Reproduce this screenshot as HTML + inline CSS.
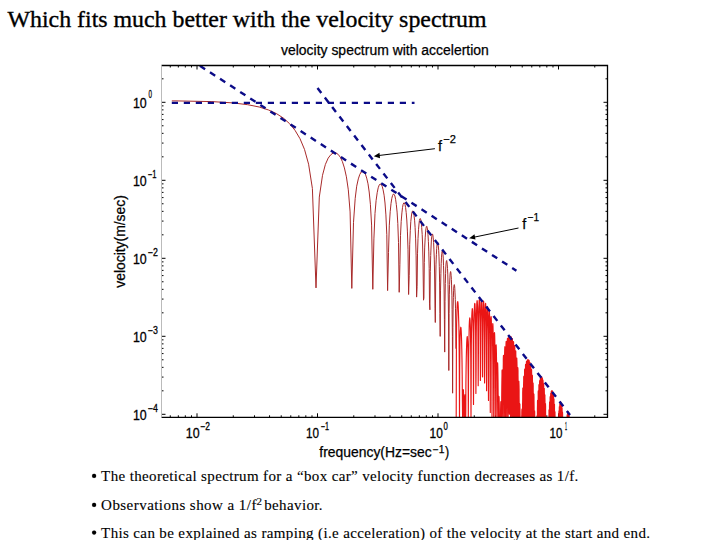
<!DOCTYPE html>
<html><head><meta charset="utf-8"><style>
html,body{margin:0;padding:0;background:#fff;width:720px;height:540px;overflow:hidden;position:relative}
</style></head><body>
<svg width="720" height="540" viewBox="0 0 720 540" style="position:absolute;left:0;top:0">
<defs><clipPath id="ax"><rect x="161.5" y="65.5" width="446.0" height="351.8"/></clipPath></defs>
<path d="M170.27 417.3V415.30M170.27 65.5V67.50M178.33 417.3V415.30M178.33 65.5V67.50M185.32 417.3V415.30M185.32 65.5V67.50M191.49 417.3V415.30M191.49 65.5V67.50M197.00 417.3V413.30M197.00 65.5V69.50M233.27 417.3V415.30M233.27 65.5V67.50M254.49 417.3V415.30M254.49 65.5V67.50M269.55 417.3V415.30M269.55 65.5V67.50M281.23 417.3V415.30M281.23 65.5V67.50M290.77 417.3V415.30M290.77 65.5V67.50M298.83 417.3V415.30M298.83 65.5V67.50M305.82 417.3V415.30M305.82 65.5V67.50M311.99 417.3V415.30M311.99 65.5V67.50M317.50 417.3V413.30M317.50 65.5V69.50M353.77 417.3V415.30M353.77 65.5V67.50M374.99 417.3V415.30M374.99 65.5V67.50M390.05 417.3V415.30M390.05 65.5V67.50M401.73 417.3V415.30M401.73 65.5V67.50M411.27 417.3V415.30M411.27 65.5V67.50M419.33 417.3V415.30M419.33 65.5V67.50M426.32 417.3V415.30M426.32 65.5V67.50M432.49 417.3V415.30M432.49 65.5V67.50M438.00 417.3V413.30M438.00 65.5V69.50M474.27 417.3V415.30M474.27 65.5V67.50M495.49 417.3V415.30M495.49 65.5V67.50M510.55 417.3V415.30M510.55 65.5V67.50M522.23 417.3V415.30M522.23 65.5V67.50M531.77 417.3V415.30M531.77 65.5V67.50M539.83 417.3V415.30M539.83 65.5V67.50M546.82 417.3V415.30M546.82 65.5V67.50M552.99 417.3V415.30M552.99 65.5V67.50M558.50 417.3V413.30M558.50 65.5V69.50M594.77 417.3V415.30M594.77 65.5V67.50M161.5 414.30H165.50M607.5 414.30H603.50M161.5 390.82H163.50M607.5 390.82H605.50M161.5 377.08H163.50M607.5 377.08H605.50M161.5 367.34H163.50M607.5 367.34H605.50M161.5 359.78H163.50M607.5 359.78H605.50M161.5 353.60H163.50M607.5 353.60H605.50M161.5 348.38H163.50M607.5 348.38H605.50M161.5 343.86H163.50M607.5 343.86H605.50M161.5 339.87H163.50M607.5 339.87H605.50M161.5 336.30H165.50M607.5 336.30H603.50M161.5 312.82H163.50M607.5 312.82H605.50M161.5 299.08H163.50M607.5 299.08H605.50M161.5 289.34H163.50M607.5 289.34H605.50M161.5 281.78H163.50M607.5 281.78H605.50M161.5 275.60H163.50M607.5 275.60H605.50M161.5 270.38H163.50M607.5 270.38H605.50M161.5 265.86H163.50M607.5 265.86H605.50M161.5 261.87H163.50M607.5 261.87H605.50M161.5 258.30H165.50M607.5 258.30H603.50M161.5 234.82H163.50M607.5 234.82H605.50M161.5 221.08H163.50M607.5 221.08H605.50M161.5 211.34H163.50M607.5 211.34H605.50M161.5 203.78H163.50M607.5 203.78H605.50M161.5 197.60H163.50M607.5 197.60H605.50M161.5 192.38H163.50M607.5 192.38H605.50M161.5 187.86H163.50M607.5 187.86H605.50M161.5 183.87H163.50M607.5 183.87H605.50M161.5 180.30H165.50M607.5 180.30H603.50M161.5 156.82H163.50M607.5 156.82H605.50M161.5 143.08H163.50M607.5 143.08H605.50M161.5 133.34H163.50M607.5 133.34H605.50M161.5 125.78H163.50M607.5 125.78H605.50M161.5 119.60H163.50M607.5 119.60H605.50M161.5 114.38H163.50M607.5 114.38H605.50M161.5 109.86H163.50M607.5 109.86H605.50M161.5 105.87H163.50M607.5 105.87H605.50M161.5 102.30H165.50M607.5 102.30H603.50M161.5 78.82H163.50M607.5 78.82H605.50" stroke="#000" stroke-width="1" fill="none"/>
<g clip-path="url(#ax)" fill="none" stroke-width="1" stroke-linejoin="round">
<polyline points="171.8,100.9 176.0,100.9 211.9,101.6 232.8,102.9 247.7,104.7 259.2,107.0 268.6,110.0 276.6,113.7 283.5,118.2 289.6,123.7 295.0,130.3 300.0,138.7 304.5,149.4 308.6,164.2 312.4,188.5 316.0,287.9 319.3,197.1 322.5,175.3 325.4,164.4 328.2,158.1 330.9,154.6 333.4,152.9 335.8,152.9 338.1,154.3 340.3,157.2 342.4,161.6 344.4,167.9 346.4,176.8 348.3,189.8 350.1,211.9 351.8,288.4 353.5,222.3 355.2,198.4 356.7,186.2 358.3,178.9 359.8,174.4 361.2,172.0 362.7,171.3 364.0,172.0 365.4,174.2 366.7,178.1 368.0,183.8 369.2,192.0 370.4,204.3 371.6,225.1 372.8,289.3 373.9,238.9 375.0,213.4 376.1,200.5 377.2,192.7 378.2,187.8 379.2,185.1 380.2,184.0 381.2,184.4 382.2,186.3 383.1,189.8 384.1,195.2 385.0,203.0 385.9,214.9 386.8,234.7 387.6,290.6 388.5,252.4 389.3,225.2 390.2,211.7 391.0,203.6 391.8,198.4 392.6,195.4 393.3,194.1 394.1,194.3 394.9,196.0 395.6,199.3 396.3,204.4 397.1,212.1 397.8,223.5 398.5,242.5 399.2,292.3 399.9,264.3 400.5,235.4 401.2,221.4 401.9,212.9 402.5,207.6 403.1,204.4 403.8,202.9 404.4,203.0 405.0,204.5 405.6,207.6 406.2,212.6 406.8,220.0 407.4,231.1 408.0,249.3 408.6,294.5 409.2,275.6 409.7,244.8 410.3,230.3 410.8,221.5 411.4,216.0 411.9,212.6 412.5,211.0 413.0,211.0 413.5,212.4 414.0,215.4 414.6,220.2 415.1,227.4 415.6,238.1 416.1,255.8 416.6,297.1 417.1,286.7 417.5,253.8 418.0,238.7 418.5,229.7 419.0,224.0 419.4,220.5 419.9,218.8 420.4,218.6 420.8,219.9 421.3,222.8 421.7,227.5 422.2,234.5 422.6,245.0 423.0,262.0 423.5,300.2 423.9,298.0 424.3,262.7 424.7,247.1 425.2,237.8 425.6,231.9 426.0,228.3 426.4,226.5 426.8,226.2 427.2,227.5 427.6,230.3 428.0,234.8 428.4,241.7 428.8,251.9 429.2,268.4 429.5,303.9 429.9,309.8 430.3,271.7 430.7,255.5 431.1,246.0 431.4,239.9 431.8,236.2 432.2,234.3 432.5,234.0 432.9,235.2 433.2,237.9 433.6,242.4 433.9,249.1 434.3,259.1 434.6,275.0 435.0,308.2 435.3,322.5 435.7,281.0 436.0,264.2 436.4,254.4 436.7,248.3 437.0,244.5 437.4,242.5 437.7,242.1 438.0,243.3 438.3,245.9 438.7,250.3 439.0,256.9 439.3,266.7 439.6,282.1 439.9,313.4 440.2,336.4 440.5,290.9 440.9,273.5 441.2,263.5 441.5,257.2 441.8,253.3 442.1,251.3 442.4,250.9 442.7,251.9 443.0,254.5 443.3,258.9 443.5,265.4 443.8,275.0 444.1,290.0 444.4,319.6 444.7,352.1 445.0,301.6 445.3,283.6 445.6,273.3 445.8,266.9 446.1,263.0 446.4,260.9 446.7,260.5 446.9,261.6 447.2,264.1 447.5,268.4 447.8,274.9 448.0,284.3 448.3,299.0 448.6,327.0 448.8,370.5 449.1,313.6 449.3,294.9 449.6,284.4 449.9,277.9 450.1,274.0 450.4,271.9 450.6,271.5 450.9,272.6 451.1,275.2 451.4,279.5 451.6,285.9 451.9,295.2 452.1,309.6 452.4,336.4 452.6,393.2 452.9,327.3 453.1,308.0 453.4,297.4 453.6,290.8 453.8,286.9 454.1,285.0 454.3,284.6 454.6,285.8 454.8,288.5 455.0,292.9 455.3,299.4 455.5,308.8 455.7,323.0 455.9,348.7" stroke="#a82a2a"/>
<polyline points="456.2,420.3 456.4,344.3 456.6,324.3 456.9,313.6 457.1,307.2 457.3,303.5 457.5,301.8 457.8,301.7 458.0,303.2 458.2,306.2 458.4,310.9 458.6,317.7 458.9,327.3 459.1,341.6 459.3,366.7 459.5,420.3 459.7,367.5 459.9,347.3 460.1,337.0 460.3,331.2 460.6,328.2 460.8,327.2 461.0,328.1 461.2,330.6 461.4,334.7 461.6,340.7 461.8,348.9 462.0,360.0 462.2,375.9 462.4,402.2 462.6,420.3 462.8,412.9 463.0,395.5 463.2,389.6 463.4,389.8 463.6,395.4 463.8,407.7 464.0,420.3 464.2,420.3 464.4,419.5 464.6,403.0 464.8,395.8 465.0,394.7 465.2,399.8 465.4,415.6 465.6,420.3 465.8,412.0 465.9,384.2 466.1,368.0 466.3,356.9 466.5,348.9 466.7,343.1 466.9,339.3 467.1,337.1 467.3,336.5 467.4,337.7 467.6,341.0 467.8,346.9 468.0,357.1 468.2,376.3 468.3,420.3 468.5,383.2 468.7,356.6 468.9,342.1 469.1,332.6 469.2,326.1 469.4,321.7 469.6,319.0 469.8,317.9 469.9,318.4 470.1,320.4 470.3,324.4 470.5,331.0 470.6,341.7 470.8,360.7 471.0,420.3 471.2,373.0 471.3,345.6 471.5,331.2 471.7,322.0 471.8,315.8 472.0,311.7 472.2,309.4 472.3,308.6 472.5,309.3 472.7,311.6 472.8,315.8 473.0,322.5 473.2,333.2 473.3,351.7 473.5,404.5 473.7,368.8 473.8,340.1 474.0,325.5 474.2,316.3 474.3,310.2 474.5,306.3 474.6,304.0 474.8,303.4 475.0,304.2 475.1,306.6 475.3,310.8 475.4,317.6 475.6,328.1 475.7,346.1 475.9,393.5 476.1,367.9 476.2,337.6 476.4,322.8 476.5,313.5 476.7,307.3 476.8,303.4 477.0,301.2 477.1,300.6 477.3,301.4 477.4,303.9 477.6,308.1 477.7,314.8 477.9,325.2 478.0,342.6 478.2,385.8 478.3,369.2 478.5,337.1 478.6,321.8 478.8,312.4 478.9,306.2 479.1,302.3 479.2,300.1 479.4,299.5 479.5,300.3 479.7,302.8 479.8,307.0 480.0,313.6 480.1,323.8 480.2,340.7 480.4,380.4 480.5,372.2 480.7,338.1 480.8,322.3 481.0,312.8 481.1,306.5 481.2,302.5 481.4,300.3 481.5,299.7 481.7,300.5 481.8,302.9 481.9,307.1 482.1,313.6 482.2,323.6 482.3,340.0 482.5,376.8 482.6,376.9 482.8,340.2 482.9,324.0 483.0,314.2 483.2,307.9 483.3,303.9 483.4,301.6 483.6,301.0 483.7,301.8 483.8,304.2 484.0,308.3 484.1,314.7 484.2,324.5 484.4,340.4 484.5,374.7 484.6,383.0 484.8,343.5 484.9,326.7 485.0,316.7 485.2,310.3 485.3,306.2 485.4,304.0 485.6,303.3 485.7,304.1 485.8,306.4 485.9,310.5 486.1,316.8 486.2,326.4 486.3,341.9 486.5,374.0 486.6,390.8 486.7,347.8 486.8,330.5 487.0,320.3 487.1,313.7 487.2,309.6 487.3,307.3 487.5,306.6 487.6,307.3 487.7,309.7 487.8,313.7 488.0,320.0 488.1,329.4 488.2,344.4 488.3,374.7 488.5,400.4 488.6,353.1 488.7,335.2 488.8,324.8 488.9,318.2 489.1,314.0 489.2,311.7 489.3,310.9 489.4,311.7 489.5,314.0 489.7,318.0 489.8,324.2 489.9,333.4 490.0,348.0 490.1,376.7 490.3,412.4 490.4,359.7 490.5,341.2 490.6,330.5 490.7,323.8 490.8,319.6 491.0,317.2 491.1,316.5 491.2,317.2 491.3,319.5 491.4,323.5 491.5,329.6 491.7,338.8 491.8,353.0 491.9,380.3 492.0,420.3 492.1,367.7 492.2,348.5 492.3,337.7 492.5,330.8 492.6,326.6 492.7,324.3 492.8,323.5 492.9,324.3 493.0,326.6 493.1,330.6 493.2,336.7 493.4,345.7 493.5,359.7 493.6,385.8 493.7,420.3 493.8,377.6 493.9,357.7 494.0,346.6 494.1,339.8 494.2,335.5 494.3,333.3 494.5,332.6 494.6,333.5 494.7,335.8 494.8,339.9 494.9,346.0 495.0,355.0 495.1,368.8 495.2,393.8 495.3,420.3 495.4,390.1 495.5,369.5 495.6,358.3 495.7,351.5 495.9,347.4 496.0,345.3 496.1,344.8 496.2,345.8 496.3,348.4 496.4,352.6 496.5,358.9 496.6,368.0 496.7,381.8 496.8,406.0 496.9,420.3 497.0,407.1 497.1,385.9 497.2,374.9 497.3,368.3 497.4,364.6 497.5,362.8 497.6,362.8 497.7,364.4 497.8,367.5 497.9,372.4 498.0,379.3 498.1,389.0 498.2,403.2 498.3,420.3 498.4,420.3 498.5,420.3 498.6,413.7 498.7,403.7 498.8,398.5 498.9,396.4 499.0,396.7 499.1,398.9 499.2,403.2 499.3,409.6 499.4,418.4 499.5,420.3 499.6,420.3 499.7,420.3 499.8,420.3 499.9,420.3 500.0,420.3 500.1,420.3 500.2,420.3 500.3,420.3 500.4,420.3 500.5,417.2 500.6,409.9 500.7,405.0 500.8,402.3 500.9,401.5 501.0,403.1 501.1,407.6 501.2,416.5 501.3,420.3 501.4,420.3 501.5,420.3 501.6,412.8 501.7,397.5 501.8,387.2 501.9,380.0 502.0,375.0 502.0,371.7 502.1,370.1 502.2,369.9 502.3,371.5 502.4,375.0 502.5,381.2 502.6,391.3 502.7,409.7 502.8,420.3 502.9,420.3 503.0,394.4 503.1,379.6 503.2,370.0 503.3,363.4 503.3,359.0 503.4,356.4 503.5,355.3 503.6,355.7 503.7,357.7 503.8,361.6 503.9,368.1 504.0,378.4 504.1,396.4 504.2,420.3 504.3,414.5 504.3,385.1 504.4,370.1 504.5,360.7 504.6,354.3 504.7,350.1 504.8,347.6 504.9,346.7 505.0,347.3 505.1,349.5 505.2,353.6 505.2,360.1 505.3,370.3 505.4,387.9 505.5,420.3 505.6,410.9 505.7,379.8 505.8,364.6 505.9,355.1 505.9,348.8 506.0,344.6 506.1,342.3 506.2,341.4 506.3,342.1 506.4,344.4 506.5,348.4 506.6,354.9 506.6,365.0 506.7,382.1 506.8,420.3 506.9,410.0 507.0,377.1 507.1,361.5 507.2,351.9 507.2,345.5 507.3,341.4 507.4,339.0 507.5,338.2 507.6,338.9 507.7,341.2 507.7,345.3 507.8,351.7 507.9,361.6 508.0,378.2 508.1,416.7 508.2,411.2 508.3,376.1 508.3,360.1 508.4,350.3 508.5,343.9 508.6,339.7 508.7,337.4 508.7,336.6 508.8,337.3 508.9,339.5 509.0,343.6 509.1,349.9 509.2,359.7 509.2,375.7 509.3,411.5 509.4,414.2 509.5,376.5 509.6,360.0 509.7,350.0 509.7,343.5 509.8,339.3 509.9,337.0 510.0,336.2 510.1,336.8 510.1,339.1 510.2,343.1 510.3,349.3 510.4,358.9 510.5,374.5 510.5,408.0 510.6,418.9 510.7,378.2 510.8,361.1 510.9,350.9 510.9,344.3 511.0,340.1 511.1,337.7 511.2,336.9 511.3,337.5 511.3,339.7 511.4,343.7 511.5,349.9 511.6,359.3 511.6,374.4 511.7,405.9 511.8,420.3 511.9,380.9 512.0,363.3 512.0,352.9 512.1,346.2 512.2,341.9 512.3,339.5 512.3,338.6 512.4,339.3 512.5,341.5 512.6,345.4 512.6,351.5 512.7,360.7 512.8,375.5 512.9,405.1 513.0,420.3 513.0,384.8 513.1,366.6 513.2,356.0 513.3,349.1 513.3,344.8 513.4,342.4 513.5,341.5 513.6,342.1 513.6,344.3 513.7,348.2 513.8,354.2 513.9,363.2 513.9,377.6 514.0,405.7 514.1,420.3 514.2,389.9 514.2,371.0 514.3,360.1 514.4,353.2 514.5,348.9 514.5,346.4 514.6,345.5 514.7,346.1 514.8,348.3 514.8,352.1 514.9,358.1 515.0,367.0 515.0,381.0 515.1,407.7 515.2,420.3 515.3,396.3 515.3,376.7 515.4,365.7 515.5,358.7 515.6,354.2 515.6,351.8 515.7,350.9 515.8,351.5 515.8,353.7 515.9,357.5 516.0,363.5 516.1,372.3 516.1,386.0 516.2,411.5 516.3,420.3 516.3,404.4 516.4,384.1 516.5,372.8 516.6,365.7 516.6,361.3 516.7,358.9 516.8,358.0 516.8,358.7 516.9,360.9 517.0,364.8 517.1,370.7 517.1,379.5 517.2,392.9 517.3,417.4 517.3,420.3 517.4,414.7 517.5,393.6 517.5,382.1 517.6,375.1 517.7,370.7 517.8,368.3 517.8,367.6 517.9,368.4 518.0,370.8 518.0,374.7 518.1,380.8 518.2,389.6 518.2,402.9 518.3,420.3 518.4,420.3 518.4,420.3 518.5,406.6 518.6,395.1 518.7,388.1 518.7,383.9 518.8,381.8 518.9,381.4 518.9,382.5 519.0,385.1 519.1,389.4 519.1,395.7 519.2,404.8 519.3,418.3 519.3,420.3 519.4,420.3 519.5,420.3 519.5,420.3 519.6,415.1 519.7,408.7 519.7,405.2 519.8,403.9 519.9,404.3 519.9,406.4 520.0,410.1 520.1,415.6 520.1,420.3 520.2,420.3 520.3,420.3 520.3,420.3 520.4,420.3 520.5,420.3 520.5,420.3 520.6,420.3 520.7,420.3 520.7,420.3 520.8,420.3 520.9,420.3 520.9,420.3 521.0,420.3 521.1,420.3 521.1,420.3 521.2,420.3 521.2,420.3 521.3,420.3 521.4,420.3 521.4,420.3 521.5,420.3 521.6,420.3 521.6,420.3 521.7,420.3 521.8,416.9 521.8,412.6 521.9,410.0 522.0,409.1 522.0,409.9 522.1,412.7 522.1,418.1 522.2,420.3 522.3,420.3 522.3,420.3 522.4,420.3 522.5,420.3 522.5,414.2 522.6,404.1 522.7,397.2 522.7,392.4 522.8,389.4 522.8,388.0 522.9,388.1 523.0,389.8 523.0,393.5 523.1,399.6 523.2,409.6 523.2,420.3 523.3,420.3 523.3,420.3 523.4,416.1 523.5,400.8 523.5,391.0 523.6,384.4 523.7,380.0 523.7,377.4 523.8,376.3 523.8,376.7 523.9,378.7 524.0,382.6 524.0,388.9 524.1,398.9 524.2,416.1 524.2,420.3 524.3,420.3 524.3,408.5 524.4,393.0 524.5,383.3 524.5,376.8 524.6,372.5 524.6,370.0 524.7,369.0 524.8,369.5 524.8,371.6 524.9,375.6 524.9,381.9 525.0,391.8 525.1,408.5 525.1,420.3 525.2,420.3 525.2,404.1 525.3,388.2 525.4,378.4 525.4,371.9 525.5,367.7 525.5,365.2 525.6,364.3 525.7,364.8 525.7,367.0 525.8,370.9 525.8,377.2 525.9,387.0 526.0,403.3 526.0,420.3 526.1,420.3 526.1,401.8 526.2,385.5 526.3,375.5 526.3,369.0 526.4,364.7 526.4,362.3 526.5,361.4 526.5,361.9 526.6,364.1 526.7,368.0 526.7,374.2 526.8,383.8 526.8,399.6 526.9,420.3 527.0,420.3 527.0,401.1 527.1,384.3 527.1,374.2 527.2,367.5 527.2,363.2 527.3,360.8 527.4,359.8 527.4,360.4 527.5,362.6 527.5,366.4 527.6,372.6 527.7,382.0 527.7,397.4 527.8,420.3 527.8,420.3 527.9,401.7 527.9,384.4 528.0,374.0 528.1,367.3 528.1,363.0 528.2,360.5 528.2,359.5 528.3,360.1 528.3,362.2 528.4,366.1 528.4,372.1 528.5,381.4 528.6,396.3 528.6,420.3 528.7,420.3 528.7,403.5 528.8,385.6 528.8,375.0 528.9,368.2 529.0,363.8 529.0,361.3 529.1,360.3 529.1,360.9 529.2,362.9 529.2,366.8 529.3,372.7 529.3,381.8 529.4,396.3 529.5,420.3 529.5,420.3 529.6,406.4 529.6,387.9 529.7,377.1 529.7,370.1 529.8,365.7 529.8,363.1 529.9,362.2 530.0,362.7 530.0,364.8 530.1,368.5 530.1,374.4 530.2,383.4 530.2,397.5 530.3,420.3 530.3,420.3 530.4,410.5 530.4,391.3 530.5,380.3 530.6,373.2 530.6,368.7 530.7,366.1 530.7,365.2 530.8,365.7 530.8,367.7 530.9,371.5 530.9,377.3 531.0,386.1 531.0,399.9 531.1,420.3 531.1,420.3 531.2,415.9 531.3,395.9 531.3,384.7 531.4,377.5 531.4,373.0 531.5,370.4 531.5,369.4 531.6,369.9 531.6,372.0 531.7,375.7 531.7,381.5 531.8,390.2 531.8,403.7 531.9,420.3 531.9,420.3 532.0,420.3 532.0,402.0 532.1,390.5 532.2,383.3 532.2,378.8 532.3,376.2 532.3,375.2 532.4,375.8 532.4,377.8 532.5,381.6 532.5,387.3 532.6,395.9 532.6,409.2 532.7,420.3 532.7,420.3 532.8,420.3 532.8,410.0 532.9,398.3 532.9,391.0 533.0,386.5 533.0,383.9 533.1,383.0 533.1,383.7 533.2,385.8 533.2,389.6 533.3,395.4 533.3,404.0 533.4,417.0 533.5,420.3 533.5,420.3 533.6,420.3 533.6,420.3 533.7,408.8 533.7,401.5 533.8,397.1 533.8,394.7 533.9,394.0 533.9,394.8 534.0,397.1 534.0,401.1 534.1,407.1 534.1,415.8 534.2,420.3 534.2,420.3 534.3,420.3 534.3,420.3 534.4,420.3 534.4,420.3 534.5,417.1 534.5,413.0 534.6,411.0 534.6,410.7 534.7,412.0 534.7,414.9 534.8,419.5 534.8,420.3 534.9,420.3 534.9,420.3 535.0,420.3 535.0,420.3 535.1,420.3 535.1,420.3 535.2,420.3 535.2,420.3 535.3,420.3 535.3,420.3 535.4,420.3 535.4,420.3 535.5,420.3 535.5,420.3 535.6,420.3 535.6,420.3 535.7,420.3 535.7,420.3 535.8,420.3 535.8,420.3 535.9,420.3 535.9,420.3 536.0,420.3 536.0,420.3 536.1,420.3 536.1,420.3 536.1,420.3 536.2,420.3 536.2,420.3 536.3,420.3 536.3,420.3 536.4,420.3 536.4,420.3 536.5,420.3 536.5,420.3 536.6,420.3 536.6,420.3 536.7,420.3 536.7,420.3 536.8,420.3 536.8,418.2 536.9,416.3 536.9,415.9 537.0,417.2 537.0,420.3 537.1,420.3 537.1,420.3 537.2,420.3 537.2,420.3 537.3,420.3 537.3,420.3 537.4,420.3 537.4,416.0 537.4,409.2 537.5,404.5 537.5,401.6 537.6,400.3 537.6,400.5 537.7,402.3 537.7,405.9 537.8,412.0 537.8,420.3 537.9,420.3 537.9,420.3 538.0,420.3 538.0,420.3 538.1,415.7 538.1,405.7 538.2,399.0 538.2,394.6 538.2,391.9 538.3,390.8 538.3,391.2 538.4,393.1 538.4,396.9 538.5,403.1 538.5,412.8 538.6,420.3 538.6,420.3 538.7,420.3 538.7,420.3 538.8,409.3 538.8,399.3 538.8,392.6 538.9,388.2 538.9,385.6 539.0,384.6 539.0,385.1 539.1,387.1 539.1,390.9 539.2,397.1 539.2,406.6 539.3,420.3 539.3,420.3 539.4,420.3 539.4,420.3 539.4,405.3 539.5,395.2 539.5,388.5 539.6,384.1 539.6,381.5 539.7,380.5 539.7,381.0 539.8,383.1 539.8,386.9 539.9,393.0 539.9,402.4 539.9,418.0 540.0,420.3 540.0,420.3 540.1,420.1 540.1,403.1 540.2,392.8 540.2,386.0 540.3,381.7 540.3,379.1 540.4,378.1 540.4,378.6 540.4,380.6 540.5,384.4 540.5,390.4 540.6,399.7 540.6,414.9 540.7,420.3 540.7,420.3 540.8,419.9 540.8,402.3 540.8,391.8 540.9,384.9 540.9,380.5 541.0,377.9 541.0,376.9 541.1,377.4 541.1,379.4 541.2,383.2 541.2,389.1 541.2,398.2 541.3,413.0 541.3,420.3 541.4,420.3 541.4,420.3 541.5,402.7 541.5,392.0 541.5,385.0 541.6,380.5 541.6,377.9 541.7,376.9 541.7,377.4 541.8,379.4 541.8,383.1 541.9,389.0 541.9,397.9 541.9,412.2 542.0,420.3 542.0,420.3 542.1,420.3 542.1,404.2 542.2,393.2 542.2,386.2 542.2,381.7 542.3,379.0 542.3,378.0 542.4,378.4 542.4,380.4 542.5,384.1 542.5,389.9 542.5,398.7 542.6,412.6 542.6,420.3 542.7,420.3 542.7,420.3 542.8,406.8 542.8,395.6 542.8,388.5 542.9,383.9 542.9,381.2 543.0,380.1 543.0,380.6 543.1,382.5 543.1,386.2 543.1,391.9 543.2,400.5 543.2,414.2 543.3,420.3 543.3,420.3 543.4,420.3 543.4,410.6 543.4,399.1 543.5,391.9 543.5,387.2 543.6,384.6 543.6,383.5 543.7,383.9 543.7,385.9 543.7,389.5 543.8,395.2 543.8,403.7 543.9,417.0 543.9,420.3 543.9,420.3 544.0,420.3 544.0,415.7 544.1,404.0 544.1,396.7 544.2,392.0 544.2,389.3 544.2,388.2 544.3,388.7 544.3,390.6 544.4,394.2 544.4,399.9 544.4,408.3 544.5,420.3 544.5,420.3 544.6,420.3 544.6,420.3 544.7,420.3 544.7,410.5 544.7,403.1 544.8,398.4 544.8,395.7 544.9,394.7 544.9,395.2 544.9,397.2 545.0,400.8 545.0,406.5 545.1,414.9 545.1,420.3 545.1,420.3 545.2,420.3 545.2,420.3 545.3,420.3 545.3,419.2 545.4,411.8 545.4,407.1 545.4,404.5 545.5,403.6 545.5,404.2 545.6,406.4 545.6,410.1 545.6,415.9 545.7,420.3 545.7,420.3 545.8,420.3 545.8,420.3 545.8,420.3 545.9,420.3 545.9,420.3 546.0,420.3 546.0,419.6 546.0,417.3 546.1,416.6 546.1,417.5 546.2,419.9 546.2,420.3 546.2,420.3 546.3,420.3 546.3,420.3 546.4,420.3 546.4,420.3 546.4,420.3 546.5,420.3 546.5,420.3 546.6,420.3 546.6,420.3 546.6,420.3 546.7,420.3 546.7,420.3 546.8,420.3 546.8,420.3 546.8,420.3 546.9,420.3 546.9,420.3 547.0,420.3 547.0,420.3 547.0,420.3 547.1,420.3 547.1,420.3 547.2,420.3 547.2,420.3 547.2,420.3 547.3,420.3 547.3,420.3 547.3,420.3 547.4,420.3 547.4,420.3 547.5,420.3 547.5,420.3 547.5,420.3 547.6,420.3 547.6,420.3 547.7,420.3 547.7,420.3 547.7,420.3 547.8,420.3 547.8,420.3 547.9,420.3 547.9,420.3 547.9,420.3 548.0,420.3 548.0,420.3 548.0,420.3 548.1,420.3 548.1,420.3 548.2,420.3 548.2,420.3 548.2,420.3 548.3,420.3 548.3,420.3 548.4,420.3 548.4,420.3 548.4,420.3 548.5,420.3 548.5,420.3 548.5,420.3 548.6,420.3 548.6,420.3 548.7,420.3 548.7,420.3 548.7,420.3 548.8,420.3 548.8,420.3 548.9,420.3 548.9,420.3 548.9,418.5 549.0,413.9 549.0,411.0 549.0,409.7 549.1,409.9 549.1,411.7 549.2,415.4 549.2,420.3 549.2,420.3 549.3,420.3 549.3,420.3 549.3,420.3 549.4,420.3 549.4,420.3 549.5,417.1 549.5,410.3 549.5,405.7 549.6,403.0 549.6,401.9 549.6,402.2 549.7,404.1 549.7,407.8 549.8,413.8 549.8,420.3 549.8,420.3 549.9,420.3 549.9,420.3 549.9,420.3 550.0,420.3 550.0,411.7 550.1,404.9 550.1,400.4 550.1,397.7 550.2,396.6 550.2,397.0 550.2,399.0 550.3,402.7 550.3,408.7 550.4,418.0 550.4,420.3 550.4,420.3 550.5,420.3 550.5,420.3 550.5,418.8 550.6,408.3 550.6,401.5 550.6,397.0 550.7,394.3 550.7,393.2 550.8,393.6 550.8,395.6 550.8,399.3 550.9,405.2 550.9,414.4 550.9,420.3 551.0,420.3 551.0,420.3 551.1,420.3 551.1,417.1 551.1,406.5 551.2,399.6 551.2,395.0 551.2,392.4 551.3,391.3 551.3,391.7 551.3,393.6 551.4,397.3 551.4,403.1 551.5,412.1 551.5,420.3 551.5,420.3 551.6,420.3 551.6,420.3 551.6,416.8 551.7,405.9 551.7,398.9 551.7,394.3 551.8,391.6 551.8,390.5 551.8,390.9 551.9,392.8 551.9,396.5 552.0,402.2 552.0,411.1 552.0,420.3 552.1,420.3 552.1,420.3 552.1,420.3 552.2,417.6 552.2,406.5 552.2,399.4 552.3,394.7 552.3,392.0 552.3,390.9 552.4,391.2 552.4,393.1 552.5,396.7 552.5,402.4 552.5,411.1 552.6,420.3 552.6,420.3 552.6,420.3 552.7,420.3 552.7,419.5 552.7,408.2 552.8,400.9 552.8,396.2 552.8,393.5 552.9,392.3 552.9,392.7 552.9,394.5 553.0,398.1 553.0,403.7 553.1,412.3 553.1,420.3 553.1,420.3 553.2,420.3 553.2,420.3 553.2,420.3 553.3,410.9 553.3,403.6 553.3,398.8 553.4,396.0 553.4,394.9 553.4,395.2 553.5,397.1 553.5,400.6 553.5,406.2 553.6,414.6 553.6,420.3 553.6,420.3 553.7,420.3 553.7,420.3 553.8,420.3 553.8,415.0 553.8,407.5 553.9,402.7 553.9,399.9 553.9,398.7 554.0,399.1 554.0,400.9 554.0,404.5 554.1,410.0 554.1,418.3 554.1,420.3 554.2,420.3 554.2,420.3 554.2,420.3 554.3,420.3 554.3,420.3 554.3,412.9 554.4,408.0 554.4,405.2 554.4,404.1 554.5,404.5 554.5,406.4 554.5,409.9 554.6,415.4 554.6,420.3 554.6,420.3 554.7,420.3 554.7,420.3 554.7,420.3 554.8,420.3 554.8,420.3 554.8,420.1 554.9,415.3 554.9,412.6 554.9,411.5 555.0,412.0 555.0,413.9 555.1,417.5 555.1,420.3 555.1,420.3 555.2,420.3 555.2,420.3 555.2,420.3 555.3,420.3 555.3,420.3 555.3,420.3 555.4,420.3 555.4,420.3 555.4,420.3 555.5,420.3 555.5,420.3 555.5,420.3 555.6,420.3 555.6,420.3 555.6,420.3 555.7,420.3 555.7,420.3 555.7,420.3 555.8,420.3 555.8,420.3 555.8,420.3 555.9,420.3 555.9,420.3 555.9,420.3 556.0,420.3 556.0,420.3 556.0,420.3 556.1,420.3 556.1,420.3 556.1,420.3 556.2,420.3 556.2,420.3 556.2,420.3 556.3,420.3 556.3,420.3 556.3,420.3 556.4,420.3 556.4,420.3 556.4,420.3 556.4,420.3 556.5,420.3 556.5,420.3 556.5,420.3 556.6,420.3 556.6,420.3 556.6,420.3 556.7,420.3 556.7,420.3 556.7,420.3 556.8,420.3 556.8,420.3 556.8,420.3 556.9,420.3 556.9,420.3 556.9,420.3 557.0,420.3 557.0,420.3 557.0,420.3 557.1,420.3 557.1,420.3 557.1,420.3 557.2,420.3 557.2,420.3 557.2,420.3 557.3,420.3 557.3,420.3 557.3,420.3 557.4,420.3 557.4,420.3 557.4,420.3 557.5,420.3 557.5,420.3 557.5,420.3 557.6,420.3 557.6,420.3 557.6,420.3 557.7,420.3 557.7,420.3 557.7,420.3 557.7,420.3 557.8,420.3 557.8,420.3 557.8,420.3 557.9,420.3 557.9,420.3 557.9,420.3 558.0,420.3 558.0,420.3 558.0,420.3 558.1,420.3 558.1,420.3 558.1,420.3 558.2,420.3 558.2,420.3 558.2,420.3 558.3,420.3 558.3,420.3 558.3,420.3 558.4,420.3 558.4,418.7 558.4,417.4 558.4,417.6 558.5,419.4 558.5,420.3 558.5,420.3 558.6,420.3 558.6,420.3 558.6,420.3 558.7,420.3 558.7,420.3 558.7,420.3 558.8,420.3 558.8,419.5 558.8,414.9 558.9,412.1 558.9,410.9 558.9,411.2 559.0,413.0 559.0,416.6 559.0,420.3 559.0,420.3 559.1,420.3 559.1,420.3 559.1,420.3 559.2,420.3 559.2,420.3 559.2,420.3 559.3,415.0 559.3,410.4 559.3,407.7 559.4,406.5 559.4,406.8 559.4,408.7 559.4,412.3 559.5,418.1 559.5,420.3 559.5,420.3 559.6,420.3 559.6,420.3 559.6,420.3 559.7,420.3 559.7,419.3 559.7,412.3 559.8,407.6 559.8,404.9 559.8,403.7 559.9,404.0 559.9,405.9 559.9,409.5 559.9,415.2 560.0,420.3 560.0,420.3 560.0,420.3 560.1,420.3 560.1,420.3 560.1,420.3 560.2,418.0 560.2,410.9 560.2,406.2 560.2,403.4 560.3,402.2 560.3,402.6 560.3,404.4 560.4,407.9 560.4,413.6 560.4,420.3 560.5,420.3 560.5,420.3 560.5,420.3 560.6,420.3 560.6,420.3 560.6,417.9 560.6,410.6 560.7,405.9 560.7,403.1 560.7,401.9 560.8,402.2 560.8,404.0 560.8,407.6 560.9,413.2 560.9,420.3 560.9,420.3 560.9,420.3 561.0,420.3 561.0,420.3 561.0,420.3 561.1,418.9 561.1,411.5 561.1,406.8 561.2,403.9 561.2,402.7 561.2,403.0 561.2,404.8 561.3,408.3 561.3,413.8 561.3,420.3 561.4,420.3 561.4,420.3 561.4,420.3 561.5,420.3 561.5,420.3 561.5,420.3 561.5,413.5 561.6,408.7 561.6,405.8 561.6,404.6 561.7,404.9 561.7,406.6 561.7,410.1 561.8,415.5 561.8,420.3 561.8,420.3 561.8,420.3 561.9,420.3 561.9,420.3 561.9,420.3 562.0,420.3 562.0,416.7 562.0,411.8 562.0,408.9 562.1,407.7 562.1,407.9 562.1,409.7 562.2,413.1 562.2,418.5 562.2,420.3 562.3,420.3 562.3,420.3 562.3,420.3 562.3,420.3 562.4,420.3 562.4,420.3 562.4,420.3 562.5,416.2 562.5,413.3 562.5,412.1 562.5,412.4 562.6,414.2 562.6,417.6 562.6,420.3 562.7,420.3 562.7,420.3 562.7,420.3 562.8,420.3 562.8,420.3 562.8,420.3 562.8,420.3 562.9,420.3 562.9,420.3 562.9,419.5 563.0,418.3 563.0,418.6 563.0,420.3 563.0,420.3 563.1,420.3 563.1,420.3 563.1,420.3 563.2,420.3 563.2,420.3 563.2,420.3 563.2,420.3 563.3,420.3 563.3,420.3 563.3,420.3 563.4,420.3 563.4,420.3 563.4,420.3 563.4,420.3 563.5,420.3 563.5,420.3 563.5,420.3 563.6,420.3 563.6,420.3 563.6,420.3 563.6,420.3 563.7,420.3 563.7,420.3 563.7,420.3 563.8,420.3 563.8,420.3 563.8,420.3 563.8,420.3 563.9,420.3 563.9,420.3 563.9,420.3 564.0,420.3 564.0,420.3 564.0,420.3 564.0,420.3 564.1,420.3 564.1,420.3 564.1,420.3 564.2,420.3 564.2,420.3 564.2,420.3 564.2,420.3 564.3,420.3 564.3,420.3 564.3,420.3 564.4,420.3 564.4,420.3 564.4,420.3 564.4,420.3 564.5,420.3 564.5,420.3 564.5,420.3 564.6,420.3 564.6,420.3 564.6,420.3 564.6,420.3 564.7,420.3 564.7,420.3 564.7,420.3 564.7,420.3 564.8,420.3 564.8,420.3 564.8,420.3 564.9,420.3 564.9,420.3 564.9,420.3 564.9,420.3 565.0,420.3 565.0,420.3 565.0,420.3 565.1,420.3 565.1,420.3 565.1,420.3 565.1,420.3 565.2,420.3 565.2,420.3 565.2,420.3 565.2,420.3 565.3,420.3 565.3,420.3 565.3,420.3 565.4,420.3 565.4,420.3 565.4,420.3 565.4,420.3 565.5,420.3 565.5,420.3 565.5,420.3 565.6,420.3 565.6,420.3 565.6,420.3 565.6,420.3 565.7,420.3 565.7,420.3 565.7,420.3 565.7,420.3 565.8,420.3 565.8,420.3 565.8,420.3 565.9,420.3 565.9,420.3 565.9,420.3 565.9,420.3 566.0,420.3 566.0,420.3 566.0,420.3 566.0,420.3 566.1,420.3 566.1,420.3 566.1,420.3 566.2,420.3 566.2,420.3 566.2,420.3 566.2,420.3 566.3,420.3 566.3,420.3 566.3,420.3 566.3,420.3 566.4,420.3 566.4,420.3 566.4,420.3 566.5,420.3 566.5,420.3 566.5,420.3 566.5,420.3 566.6,420.3 566.6,420.3 566.6,420.3 566.6,420.3 566.7,420.3 566.7,420.3 566.7,419.8 566.8,418.6 566.8,418.8 566.8,420.3 566.8,420.3 566.9,420.3 566.9,420.3 566.9,420.3 566.9,420.3 567.0,420.3 567.0,420.3 567.0,420.3 567.0,420.3 567.1,420.3 567.1,419.0 567.1,416.2 567.2,414.9 567.2,415.2 567.2,416.9 567.2,420.3 567.3,420.3 567.3,420.3 567.3,420.3 567.3,420.3 567.4,420.3 567.4,420.3 567.4,420.3 567.4,420.3 567.5,420.3 567.5,416.8 567.5,414.0 567.6,412.7 567.6,413.0 567.6,414.7 567.6,418.2 567.7,420.3 567.7,420.3 567.7,420.3 567.7,420.3 567.8,420.3 567.8,420.3 567.8,420.3 567.8,420.3 567.9,420.3 567.9,415.9 567.9,413.0 567.9,411.7 568.0,412.0 568.0,413.7 568.0,417.1 568.1,420.3 568.1,420.3 568.1,420.3 568.1,420.3 568.2,420.3 568.2,420.3 568.2,420.3 568.2,420.3 568.3,420.3 568.3,416.1 568.3,413.2 568.3,411.9 568.4,412.1 568.4,413.8 568.4,417.2 568.4,420.3 568.5,420.3 568.5,420.3 568.5,420.3 568.6,420.3 568.6,420.3 568.6,420.3 568.6,420.3 568.7,420.3 568.7,417.4 568.7,414.4 568.7,413.1 568.8,413.3 568.8,415.0 568.8,418.4 568.8,420.3 568.9,420.3 568.9,420.3 568.9,420.3 568.9,420.3 569.0,420.3 569.0,420.3 569.0,420.3 569.0,420.3 569.1,419.8 569.1,416.8 569.1,415.5 569.1,415.7 569.2,417.3 569.2,420.3 569.2,420.3 569.2,420.3 569.3,420.3 569.3,420.3 569.3,420.3 569.4,420.3 569.4,420.3 569.4,420.3 569.4,420.3 569.5,420.3 569.5,420.3 569.5,419.1 569.5,419.3 569.6,420.3 569.6,420.3 569.6,420.3 569.6,420.3 569.7,420.3 569.7,420.3 569.7,420.3 569.7,420.3 569.8,420.3 569.8,420.3 569.8,420.3 569.8,420.3 569.9,420.3 569.9,420.3 569.9,420.3 569.9,420.3 570.0,420.3 570.0,420.3 570.0,420.3 570.0,420.3 570.1,420.3 570.1,420.3" stroke="#ea1515" stroke-width="1.15"/>
</g>
<g stroke="#0b0b88" stroke-width="2.4" stroke-dasharray="6.2 5.8" fill="none">
<line x1="171.8" y1="102.9" x2="414.5" y2="102.9"/>
<line x1="199.9" y1="65.8" x2="516.4" y2="270.7"/>
<line x1="317.5" y1="88" x2="570" y2="415"/>
</g>
<path d="M161.5,65.5 H607.5 V417.3 H161.5" fill="none" stroke="#000" stroke-width="1.3"/>
<line x1="161.5" y1="65.5" x2="161.5" y2="417.3" stroke="#bbb" stroke-width="1"/>
<g fill="#000" stroke="#000" stroke-width="0.3">
<text x="132.90" y="108.10" font-size="14" font-family='"Liberation Sans", sans-serif' textLength="13.80" lengthAdjust="spacingAndGlyphs">10</text><text x="148.50" y="98.40" font-size="10" font-family='"Liberation Sans", sans-serif' textLength="3.50" lengthAdjust="spacingAndGlyphs">0</text><text x="132.90" y="186.10" font-size="14" font-family='"Liberation Sans", sans-serif' textLength="13.80" lengthAdjust="spacingAndGlyphs">10</text><text x="147.90" y="177.50" font-size="10" font-family='"Liberation Sans", sans-serif' textLength="8.60" lengthAdjust="spacingAndGlyphs">&#8722;1</text><text x="132.90" y="264.10" font-size="14" font-family='"Liberation Sans", sans-serif' textLength="13.80" lengthAdjust="spacingAndGlyphs">10</text><text x="147.90" y="255.50" font-size="10" font-family='"Liberation Sans", sans-serif' textLength="10.00" lengthAdjust="spacingAndGlyphs">&#8722;2</text><text x="132.90" y="342.10" font-size="14" font-family='"Liberation Sans", sans-serif' textLength="13.80" lengthAdjust="spacingAndGlyphs">10</text><text x="147.90" y="333.50" font-size="10" font-family='"Liberation Sans", sans-serif' textLength="10.00" lengthAdjust="spacingAndGlyphs">&#8722;3</text><text x="132.90" y="420.10" font-size="14" font-family='"Liberation Sans", sans-serif' textLength="13.80" lengthAdjust="spacingAndGlyphs">10</text><text x="147.90" y="411.50" font-size="10" font-family='"Liberation Sans", sans-serif' textLength="10.00" lengthAdjust="spacingAndGlyphs">&#8722;4</text><text x="185.80" y="437.90" font-size="14" font-family='"Liberation Sans", sans-serif' textLength="13.80" lengthAdjust="spacingAndGlyphs">10</text><text x="200.40" y="430.00" font-size="10" font-family='"Liberation Sans", sans-serif' textLength="9.60" lengthAdjust="spacingAndGlyphs">&#8722;2</text><text x="306.10" y="437.90" font-size="14" font-family='"Liberation Sans", sans-serif' textLength="13.00" lengthAdjust="spacingAndGlyphs">10</text><text x="320.90" y="430.00" font-size="10" font-family='"Liberation Sans", sans-serif' textLength="8.20" lengthAdjust="spacingAndGlyphs">&#8722;1</text><text x="429.60" y="437.90" font-size="14" font-family='"Liberation Sans", sans-serif' textLength="13.30" lengthAdjust="spacingAndGlyphs">10</text><text x="443.60" y="430.00" font-size="10" font-family='"Liberation Sans", sans-serif' textLength="4.30" lengthAdjust="spacingAndGlyphs">0</text><text x="549.60" y="437.90" font-size="14" font-family='"Liberation Sans", sans-serif' textLength="12.90" lengthAdjust="spacingAndGlyphs">10</text><text x="565.00" y="430.00" font-size="10" font-family='"Liberation Sans", sans-serif' textLength="2.00" lengthAdjust="spacingAndGlyphs">1</text>
</g>
<g stroke="#000" stroke-width="1" fill="none">
<line x1="434.9" y1="148.7" x2="378" y2="155.6"/>
<line x1="518.5" y1="228" x2="474" y2="237.2"/>
</g>
<g fill="#000">
<polygon points="373.8,156.3 379.5,152.8 380,158.2"/>
<polygon points="469.2,238.2 474.5,234.2 475.5,239.6"/>
</g>
<g fill="#000" stroke="#000" stroke-width="0.25">
<text x="438.00" y="150.70" font-size="15.5" font-family='"Liberation Sans", sans-serif' textLength="4.00" lengthAdjust="spacingAndGlyphs">f</text>
<text x="443.20" y="142.70" font-size="11" font-family='"Liberation Sans", sans-serif' textLength="12.60" lengthAdjust="spacingAndGlyphs">&#8722;2</text>
<text x="522.30" y="229.00" font-size="15.5" font-family='"Liberation Sans", sans-serif' textLength="4.00" lengthAdjust="spacingAndGlyphs">f</text>
<text x="527.50" y="220.60" font-size="11" font-family='"Liberation Sans", sans-serif' textLength="11.50" lengthAdjust="spacingAndGlyphs">&#8722;1</text>
<text x="281.00" y="54.50" font-size="14" font-family='"Liberation Sans", sans-serif' textLength="207.80" lengthAdjust="spacingAndGlyphs">velocity spectrum with accelertion</text>
<text x="319.30" y="456.50" font-size="14" font-family='"Liberation Sans", sans-serif' textLength="112.40" lengthAdjust="spacingAndGlyphs">frequency(Hz=sec</text>
<text x="432.70" y="452.80" font-size="10" font-family='"Liberation Sans", sans-serif' textLength="11.70" lengthAdjust="spacingAndGlyphs">&#8722;1</text>
<text x="445.00" y="456.50" font-size="14" font-family='"Liberation Sans", sans-serif' textLength="4.20" lengthAdjust="spacingAndGlyphs">)</text>
<g transform="translate(125.4,287.8) rotate(-90)"><text x="0.00" y="0.00" font-size="14" font-family='"Liberation Sans", sans-serif' textLength="92.70" lengthAdjust="spacingAndGlyphs">velocity(m/sec)</text></g>
</g>
<g fill="#000">
<text x="7.50" y="26.60" font-size="23.8" font-family='"Liberation Serif", serif' textLength="479.10" lengthAdjust="spacingAndGlyphs" stroke="#000" stroke-width="0.35">Which fits much better with the velocity spectrum</text>
<g stroke="#000" stroke-width="0.12">
<circle cx="94.1" cy="475.9" r="2.1"/>
<circle cx="94.1" cy="504.9" r="2.1"/>
<circle cx="94.1" cy="532.6" r="2.1"/>
<text x="101.10" y="480.50" font-size="15" font-family='"Liberation Serif", serif' textLength="477.20" lengthAdjust="spacing">The theoretical spectrum for a “box car” velocity function decreases as 1/f.</text>
<text x="101.10" y="510.00" font-size="15" font-family='"Liberation Serif", serif' textLength="155.30" lengthAdjust="spacing">Observations show a 1/f</text>
<text x="256.40" y="504.60" font-size="10" font-family='"Liberation Serif", serif' textLength="5.50" lengthAdjust="spacingAndGlyphs">2</text>
<text x="264.20" y="510.00" font-size="15" font-family='"Liberation Serif", serif' textLength="58.40" lengthAdjust="spacing">behavior.</text>
<text x="101.10" y="537.70" font-size="15" font-family='"Liberation Serif", serif' textLength="548.90" lengthAdjust="spacing">This can be explained as ramping (i.e acceleration) of the velocity at the start and end.</text>
</g>
</g>
</svg>
</body></html>
